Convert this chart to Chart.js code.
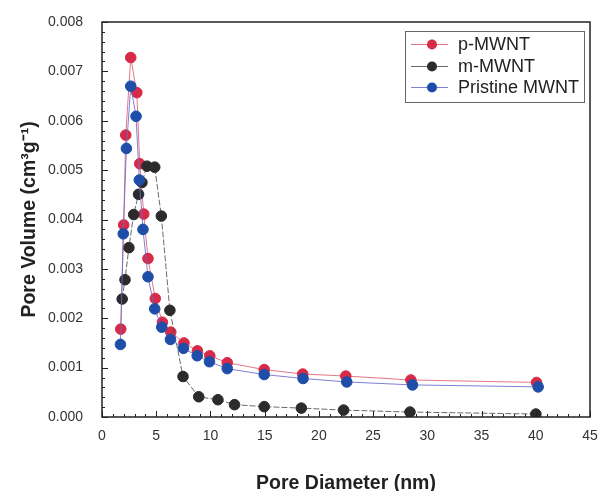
<!DOCTYPE html>
<html>
<head>
<meta charset="utf-8">
<script src="https://cdn.jsdelivr.net/npm/chart.js@4/dist/chart.umd.min.js"></script>
<style>
  html, body { margin: 0; padding: 0; background: #fff; }
  #wrap { width: 601px; height: 491px; }
</style>
</head>
<body>
<div id="wrap"><canvas id="poreChart" width="601" height="491"></canvas></div>
<script>
// Pore diameter (nm) and pore volume (cm3/g)
const pDiameter = [1.73, 2.0, 2.19, 2.65, 3.21, 3.48, 3.85, 4.24, 4.91, 5.57, 6.34, 7.56, 8.8, 9.94, 11.55, 14.96, 18.51, 22.48, 28.48, 40.07];
const pVolume = [0.00178, 0.00389, 0.00571, 0.00728, 0.00657, 0.00513, 0.00411, 0.00321, 0.0024, 0.00192, 0.00172, 0.0015, 0.00134, 0.00124, 0.0011, 0.00096, 0.00087, 0.00083, 0.00075, 0.0007];

const mDiameter = [1.86, 2.12, 2.48, 2.92, 3.37, 3.68, 4.15, 4.86, 5.47, 6.26, 7.47, 8.92, 10.69, 12.22, 14.96, 18.38, 22.28, 28.4, 40.01];
const mVolume = [0.00239, 0.00278, 0.00343, 0.0041, 0.00451, 0.00475, 0.00508, 0.00506, 0.00407, 0.00216, 0.00082, 0.00041, 0.00035, 0.00025, 0.00021, 0.00018, 0.00014, 0.0001, 0.00006];

const prDiameter = [1.7, 1.96, 2.25, 2.65, 3.14, 3.44, 3.78, 4.24, 4.86, 5.51, 6.31, 7.51, 8.78, 9.91, 11.55, 14.96, 18.54, 22.57, 28.63, 40.22];
const prVolume = [0.00147, 0.00371, 0.00544, 0.0067, 0.00609, 0.0048, 0.0038, 0.00284, 0.00219, 0.00182, 0.00157, 0.00139, 0.00124, 0.00112, 0.00098, 0.00086, 0.00078, 0.00071, 0.00065, 0.00061];

const seriesNames = ['p-MWNT', 'm-MWNT', 'Pristine MWNT'];
const xTicks = [0, 5, 10, 15, 20, 25, 30, 35, 40, 45];
const yTicks = [0, 0.001, 0.002, 0.003, 0.004, 0.005, 0.006, 0.007, 0.008];

const FONT = '"Liberation Sans", Arial, sans-serif';

function toPoints(xs, ys) {
    return xs.map((x, i) => ({ x: x, y: ys[i] }));
}

// Frame on top/right plus inward major and minor ticks
const frameTicks = {
    id: 'frameTicks',
    afterDraw(chart) {
        const { ctx, chartArea: a, scales: { x, y } } = chart;
        ctx.save();
        ctx.strokeStyle = '#222';
        ctx.lineWidth = 1.5;
        ctx.strokeRect(a.left, a.top, a.right - a.left, a.bottom - a.top);
        ctx.lineWidth = 1;
        ctx.beginPath();
        for (let v = 0; v <= 45; v += 1) {
            const px = Math.round(x.getPixelForValue(v)) + 0.5;
            const len = v % 5 === 0 ? 6 : 3;
            ctx.moveTo(px, a.bottom);
            ctx.lineTo(px, a.bottom - len);
        }
        for (let i = 0; i <= 40; i++) {
            const py = Math.round(y.getPixelForValue(i * 0.0002)) + 0.5;
            const len = i % 5 === 0 ? 6 : 3;
            ctx.moveTo(a.left, py);
            ctx.lineTo(a.left + len, py);
        }
        ctx.stroke();
        ctx.restore();
    }
};

// Legend box inside the plot, line-marker-line symbols
const boxLegend = {
    id: 'boxLegend',
    afterDraw(chart) {
        const ctx = chart.ctx;
        const bx = 405, by = 31, bw = 179, bh = 71;
        ctx.save();
        ctx.fillStyle = '#fff';
        ctx.fillRect(bx, by, bw, bh);
        ctx.strokeStyle = '#666';
        ctx.lineWidth = 1;
        ctx.strokeRect(bx + 0.5, by + 0.5, bw, bh);
        ctx.font = '18px ' + FONT;
        ctx.textBaseline = 'middle';
        const rows = [44.5, 66.5, 87.5];
        chart.data.datasets.forEach((ds, i) => {
            const cy = rows[i];
            ctx.strokeStyle = ds.borderColor;
            ctx.lineWidth = 1;
            ctx.beginPath();
            ctx.moveTo(411, cy);
            ctx.lineTo(448, cy);
            ctx.stroke();
            ctx.fillStyle = ds.pointBackgroundColor;
            ctx.beginPath();
            ctx.arc(432, cy, 5, 0, Math.PI * 2);
            ctx.fill();
            ctx.fillStyle = '#222';
            ctx.fillText(ds.label, 458, cy + 1);
        });
        ctx.restore();
    }
};

const ctx = document.getElementById('poreChart').getContext('2d');
new Chart(ctx, {
    type: 'line',
    data: {
        datasets: [{
            label: seriesNames[0],
            data: toPoints(pDiameter, pVolume),
            borderColor: 'rgba(225, 95, 115, 0.85)',
            borderWidth: 1,
            pointBackgroundColor: '#d62a47',
            pointBorderColor: '#d62a47',
            pointRadius: 5.3,
            order: 3
        }, {
            label: seriesNames[1],
            data: toPoints(mDiameter, mVolume),
            borderColor: 'rgba(80, 80, 80, 0.85)',
            borderWidth: 1,
            borderDash: [6, 2],
            pointBackgroundColor: '#2b2b2b',
            pointBorderColor: '#2b2b2b',
            pointRadius: 5.3,
            order: 2
        }, {
            label: seriesNames[2],
            data: toPoints(prDiameter, prVolume),
            borderColor: 'rgba(105, 105, 205, 0.85)',
            borderWidth: 1,
            pointBackgroundColor: '#1f4ea8',
            pointBorderColor: '#1f4ea8',
            pointRadius: 5.3,
            order: 1
        }]
    },
    options: {
        responsive: false,
        animation: false,
        layout: { padding: { left: 0, right: 11, top: 22, bottom: 0 } },
        plugins: {
            legend: { display: false },
            tooltip: { enabled: false }
        },
        scales: {
            x: {
                type: 'linear',
                min: 0,
                max: 45,
                afterFit: scale => {
                    scale.height = 74;
                    scale.paddingLeft = 0;
                    scale.paddingRight = 0;
                },
                afterBuildTicks: scale => { scale.ticks = xTicks.map(v => ({ value: v })); },
                grid: { display: false, drawTicks: false },
                border: { display: false },
                ticks: {
                    padding: 11,
                    color: '#333',
                    font: { family: FONT, size: 14 }
                },
                title: {
                    display: true,
                    text: 'Pore Diameter (nm)',
                    color: '#222',
                    font: { family: FONT, size: 19.5, weight: 'bold', lineHeight: 0.8 },
                    padding: { top: 0, bottom: 0 }
                }
            },
            y: {
                type: 'linear',
                min: 0,
                max: 0.008,
                afterFit: scale => {
                    scale.width = 102;
                    scale.paddingTop = 0;
                    scale.paddingBottom = 0;
                },
                afterBuildTicks: scale => { scale.ticks = yTicks.map(v => ({ value: v })); },
                grid: { display: false, drawTicks: false },
                border: { display: false },
                ticks: {
                    padding: 19,
                    color: '#333',
                    font: { family: FONT, size: 14 },
                    callback: v => Number(v).toFixed(3)
                },
                title: {
                    display: true,
                    text: 'Pore Volume (cm³g⁻¹)',
                    color: '#222',
                    font: { family: FONT, size: 19.5, weight: 'bold' },
                    padding: { top: 18, bottom: 0 }
                }
            }
        }
    },
    plugins: [frameTicks, boxLegend]
});
</script>
</body>
</html>
